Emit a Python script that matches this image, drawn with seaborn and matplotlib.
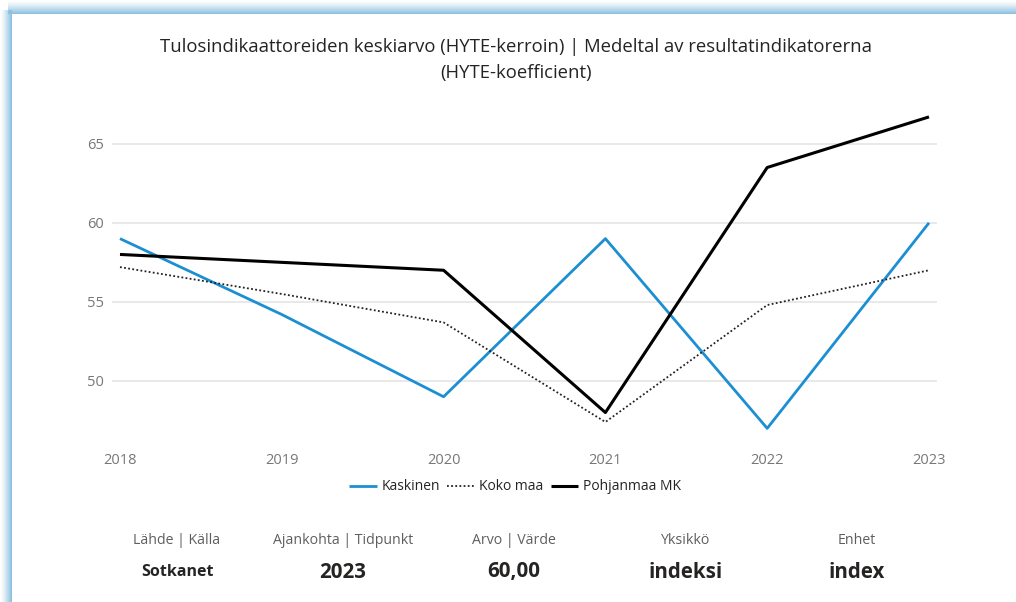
import numpy as np
import pandas as pd
import matplotlib.pyplot as plt
import seaborn as sns

# data
years = [2018, 2019, 2020, 2021, 2022, 2023]
kaskinen = [59.0, 54.2, 49.0, 59.0, 47.0, 60.0]
koko_maa = [57.2, 55.5, 53.7, 47.4, 54.8, 57.0]
pohjanmaa = [58.0, 57.5, 57.0, 48.0, 63.5, 66.7]
series_names = ["Kaskinen", "Koko maa", "Pohjanmaa MK"]

footer_labels = ["Lähde | Källa", "Ajankohta | Tidpunkt", "Arvo | Värde", "Yksikkö", "Enhet"]
footer_values = ["Sotkanet", "2023", "60,00", "indeksi", "index"]

title = ("Tulosindikaattoreiden keskiarvo (HYTE-kerroin) | Medeltal av resultatindikatorerna\n"
         "(HYTE-koefficient)")

df = pd.DataFrame({
    "year": years * 3,
    "value": kaskinen + koko_maa + pohjanmaa,
    "series": np.repeat(series_names, len(years)),
})

sns.set_theme(style="white")
plt.rcParams["font.family"] = ["Open Sans", "DejaVu Sans"]

W, H = 1016, 602
fig = plt.figure(figsize=(W / 100, H / 100), dpi=100)

# card frame (blue shadow on left and top)
bg = fig.add_axes([0, 0, 1, 1], zorder=-5)
bg.axis("off")
blue = np.array([0.55, 0.76, 0.88])
ramp_x = np.linspace(0, 1, 12) ** 1.3
left = np.ones((1, 12, 4))
left[..., :3] = blue
left[..., 3] = ramp_x
bg.imshow(left, extent=(0, 12, H, 10), aspect="auto", interpolation="bilinear")
ramp_y = np.linspace(0, 1, 14) ** 1.3
top = np.ones((14, 1, 4))
top[..., :3] = blue
top[..., 3] = ramp_y[:, None]
bg.imshow(top, extent=(8, W, 14, 0), aspect="auto", interpolation="bilinear")
bg.set_xlim(0, W)
bg.set_ylim(H, 0)

ax = fig.add_axes([112 / W, 1 - 441 / H, (937 - 112) / W, (441 - 109) / H])

styles = {
    "Kaskinen": dict(color="#1B8FD2", lw=2.0, ls="-"),
    "Koko maa": dict(color="#222222", lw=1.3, ls=(0, (1, 1.3))),
    "Pohjanmaa MK": dict(color="#000000", lw=2.2, ls="-"),
}
for name in series_names:
    st = styles[name]
    sns.lineplot(data=df[df["series"] == name], x="year", y="value", ax=ax,
                 color=st["color"], lw=st["lw"], linestyle=st["ls"], label=name,
                 solid_capstyle="butt", dash_capstyle="butt")

ax.set_xlim(2018 - 8 / 161.8, 2023 + 8 / 161.8)
ax.set_ylim(46.2, 67.2)
ax.set_yticks([50, 55, 60, 65])
ax.set_xticks(years)
ax.set_xticklabels([str(y) for y in years])
ax.grid(axis="y", color="#E3E3E3", lw=1.1)
ax.grid(axis="x", visible=False)
for s in ax.spines.values():
    s.set_visible(False)
ax.tick_params(axis="both", length=0, labelsize=10.5, labelcolor="#777777")
ax.tick_params(axis="x", pad=9)
ax.tick_params(axis="y", pad=6)
ax.set_xlabel("")
ax.set_ylabel("")

handles, labels = ax.get_legend_handles_labels()
ax.legend(handles, labels, loc="center", bbox_to_anchor=(515 / W, 1 - 487 / H),
          bbox_transform=fig.transFigure, ncol=3, frameon=False, fontsize=10,
          handlelength=2.0, handletextpad=0.35, columnspacing=0.5,
          labelcolor="#252423")

fig.text(516 / W, 1 - 60 / H, title, ha="center", va="center", fontsize=13.3,
         color="#252423", linespacing=1.55)

col_x = [177, 343, 514, 686, 857]
for i, (lab, val) in enumerate(zip(footer_labels, footer_values)):
    fig.text(col_x[i] / W, 1 - 541 / H, lab, ha="center", va="center",
             fontsize=10.2, color="#605E5C")
    fig.text(col_x[i] / W, 1 - 572 / H, val, ha="center", va="center",
             fontsize=11.5 if i == 0 else 14.8, fontweight="bold", color="#252423")

fig.savefig("out.png", dpi=100)
